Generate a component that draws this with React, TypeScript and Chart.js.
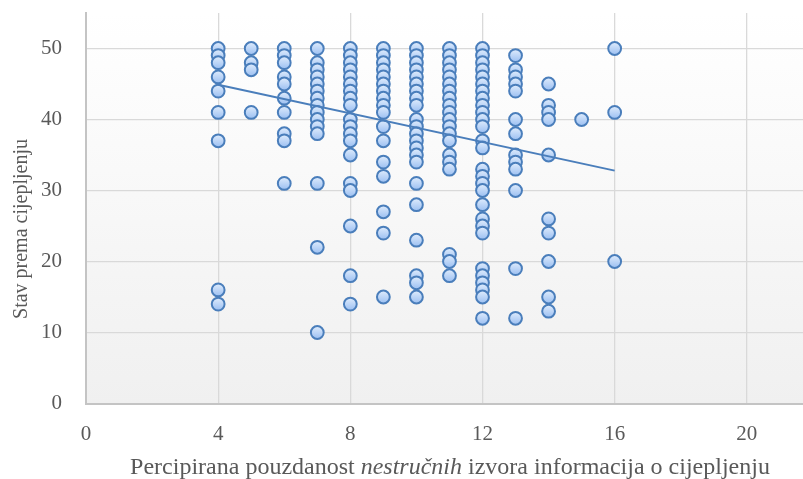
import React, { useEffect, useRef } from "react";
import { Chart, registerables } from "chart.js";

Chart.register(...registerables);

// Observed attitude scores (y) at each perceived-reliability score (x)
const xCategories = [4, 5, 6, 7, 8, 9, 10, 11, 12, 13, 14, 15, 16];
const yAt4 = [50, 49, 48, 46, 44, 41, 37, 16, 14];
const yAt5 = [50, 48, 47, 41];
const yAt6 = [50, 49, 48, 46, 45, 43, 41, 38, 37, 31];
const yAt7 = [50, 48, 47, 46, 45, 44, 43, 42, 41, 40, 39, 38, 31, 22, 10];
const yAt8 = [50, 49, 48, 47, 46, 45, 44, 43, 42, 40, 39, 38, 37, 35, 31, 30, 25, 18, 14];
const yAt9 = [50, 49, 48, 47, 46, 45, 44, 43, 42, 41, 39, 37, 34, 32, 27, 24, 15];
const yAt10 = [50, 49, 48, 47, 46, 45, 44, 43, 42, 40, 39, 38, 37, 36, 35, 34, 31, 28, 23, 18, 17, 15];
const yAt11 = [50, 49, 48, 47, 46, 45, 44, 43, 42, 41, 40, 39, 38, 37, 35, 34, 33, 21, 20, 18];
const yAt12 = [50, 49, 48, 47, 46, 45, 44, 43, 42, 41, 40, 39, 37, 36, 33, 32, 31, 30, 28, 26, 25, 24, 19, 18, 17, 16, 15, 12];
const yAt13 = [49, 47, 46, 45, 44, 40, 38, 35, 34, 33, 30, 19, 12];
const yAt14 = [45, 42, 41, 40, 35, 26, 24, 20, 15, 13];
const yAt15 = [40];
const yAt16 = [50, 41, 20];
const yColumns = [yAt4, yAt5, yAt6, yAt7, yAt8, yAt9, yAt10, yAt11, yAt12, yAt13, yAt14, yAt15, yAt16];

// Linear trendline endpoints
const trendX = [4, 16];
const trendY = [44.9, 32.8];

const xTicks = [0, 4, 8, 12, 16, 20];
const yTicks = [0, 10, 20, 30, 40, 50];

const yTitle = "Stav prema cijepljenju";
const xTitleParts = [
  { text: "Percipirana pouzdanost ", italic: false },
  { text: "nestručnih", italic: true },
  { text: " izvora informacija o cijepljenju", italic: false },
];

const FONT = "'Liberation Serif', 'Times New Roman', serif";
const TEXT = "#595959";

export default function App() {
  const ref = useRef<HTMLCanvasElement | null>(null);

  useEffect(() => {
    if (!ref.current) return;
    const points: { x: number; y: number }[] = [];
    xCategories.forEach((x, i) => {
      yColumns[i].forEach((y) => points.push({ x, y }));
    });
    const trend = trendX.map((x, i) => ({ x, y: trendY[i] }));

    const decor = {
      id: "decor",
      beforeDraw(chart: any) {
        const { ctx, chartArea } = chart;
        if (!chartArea) return;
        ctx.save();
        const g = ctx.createLinearGradient(0, chartArea.top, 0, chartArea.bottom);
        g.addColorStop(0, "#ffffff");
        g.addColorStop(1, "#f0f0f0");
        ctx.fillStyle = g;
        ctx.fillRect(chartArea.left, chartArea.top, chartArea.right - chartArea.left, chartArea.bottom - chartArea.top);
        ctx.restore();
      },
      afterDraw(chart: any) {
        const { ctx } = chart;
        ctx.save();
        ctx.fillStyle = TEXT;
        // x title
        const xs = 24;
        const fonts = xTitleParts.map((p) => `${p.italic ? "italic " : ""}${xs}px ${FONT}`);
        let total = 0;
        const widths = xTitleParts.map((p, i) => {
          ctx.font = fonts[i];
          const w = ctx.measureText(p.text).width;
          total += w;
          return w;
        });
        let x = 450 - total / 2;
        ctx.textBaseline = "alphabetic";
        ctx.textAlign = "left";
        xTitleParts.forEach((p, i) => {
          ctx.font = fonts[i];
          ctx.fillText(p.text, x, 474);
          x += widths[i];
        });
        // y title
        ctx.translate(27, 229);
        ctx.rotate(-Math.PI / 2);
        ctx.font = `20px ${FONT}`;
        ctx.textAlign = "center";
        ctx.fillText(yTitle, 0, 0);
        ctx.restore();
      },
    };

    const zeroPad = (s: any) => {
      s.paddingTop = 0;
      s.paddingBottom = 0;
      s.paddingLeft = 0;
      s.paddingRight = 0;
    };

    const chart = new Chart(ref.current, {
      type: "scatter",
      data: {
        datasets: [
          {
            type: "line",
            label: "Trend",
            data: trend,
            borderColor: "#4a7ebb",
            borderWidth: 2,
            pointRadius: 0,
            fill: false,
            order: 0,
          } as any,
          {
            label: "Stav",
            data: points,
            order: 1,
            pointRadius: 6.4,
            pointHoverRadius: 6.4,
            pointBorderWidth: 2,
            pointBorderColor: "#4a7ebb",
            pointBackgroundColor: (c: any) => {
              const chart = c.chart;
              const ys = chart.scales && chart.scales.y;
              const raw = c.raw;
              if (!ys || !raw || typeof raw.y !== "number") return "#c3d8f8";
              const py = ys.getPixelForValue(raw.y);
              if (!isFinite(py)) return "#c3d8f8";
              const g = chart.ctx.createLinearGradient(0, py - 7, 0, py + 7);
              g.addColorStop(0, "#e2eefd");
              g.addColorStop(1, "#98bdf1");
              return g;
            },
          } as any,
        ],
      },
      options: {
        animation: false,
        responsive: false,
        maintainAspectRatio: false,
        events: [],
        layout: { autoPadding: false, padding: { top: 13, right: 0, left: 0, bottom: 0 } },
        plugins: {
          legend: { display: false },
          tooltip: { enabled: false },
          title: { display: false },
        },
        scales: {
          x: {
            type: "linear",
            min: 0,
            max: 21.7,
            afterFit: (s: any) => {
              s.height = 75.5;
              zeroPad(s);
            },
            afterBuildTicks: (s: any) => {
              s.ticks = xTicks.map((v) => ({ value: v }));
            },
            ticks: {
              stepSize: 4,
              includeBounds: false,
              padding: 18,
              color: TEXT,
              font: { family: FONT, size: 21 },
              maxRotation: 0,
            },
            grid: { color: "#d9d9d9", lineWidth: 1.3, drawTicks: false },
            border: { color: "#c4c4c4", width: 2 },
          },
          y: {
            type: "linear",
            min: 0,
            max: 55,
            afterFit: (s: any) => {
              s.width = 86;
              zeroPad(s);
            },
            afterBuildTicks: (s: any) => {
              s.ticks = yTicks.map((v) => ({ value: v }));
            },
            ticks: {
              stepSize: 10,
              includeBounds: false,
              padding: 24,
              color: TEXT,
              font: { family: FONT, size: 21 },
            },
            grid: { color: "#d9d9d9", lineWidth: 1.3, drawTicks: false },
            border: { color: "#c4c4c4", width: 2 },
          },
        },
      } as any,
      plugins: [decor],
    });
    return () => chart.destroy();
  }, []);

  return (
    <div style={{ position: "absolute", left: 0, top: 0, width: 803, height: 479, background: "#ffffff" }}>
      <canvas ref={ref} width={803} height={479} style={{ display: "block", width: 803, height: 479 }} />
    </div>
  );
}
